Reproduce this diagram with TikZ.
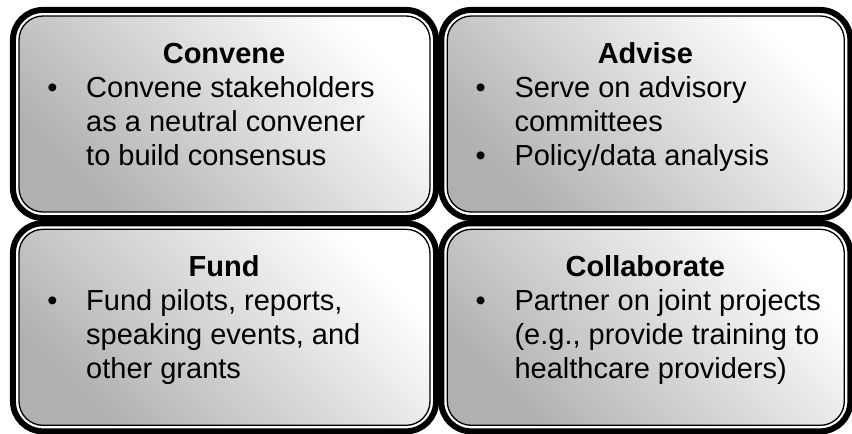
\documentclass[tikz,border=0pt]{standalone}
\usepackage{fontspec}
\setmainfont{Liberation Sans}
\usepackage{tikz}
\usetikzlibrary{positioning,fit,backgrounds}
\tikzset{
  roleBox/.style={
    rectangle,
    rounded corners=24pt,
    draw=black,
    line width=1.3pt,
    top color=white,
    bottom color=black!31,
    shading angle=-45,
    minimum height=196pt,
    inner sep=0pt
 },
  roleFrame/.style={
    rectangle,
    rounded corners=30pt,
    draw=black,
    fill=white,
    line width=6pt,
    inner sep=5.4pt
 },
  roleText/.style={
    anchor=base west,
    inner sep=0pt,
    font=\fontsize{29}{34}\selectfont
 }
}
\newcommand{\roleBullet}{\hspace{11pt}\textbullet}

\begin{document}
\begin{tikzpicture}[x=1pt,y=-1pt]
  \useasboundingbox (0,0) rectangle (852,434);

  \node[roleBox, minimum width=411pt] (convene) at (224.5,114) {};
  \node[roleBox, minimum width=397pt, right=16pt of convene] (advise) {};
  \node[roleBox, minimum width=411pt, below=16pt of convene] (fund) {};
  \node[roleBox, minimum width=397pt, below=16pt of advise] (collab) {};

  \begin{scope}[on background layer]
    \node[roleFrame, fit=(convene)] (conveneFrame) {};
    \node[roleFrame, fit=(advise)] (adviseFrame) {};
    \node[roleFrame, fit=(fund)] (fundFrame) {};
    \node[roleFrame, fit=(collab)] (collabFrame) {};
  \end{scope}

  \node[roleText] (conveneText) at ([shift={(17.7,48)}]convene.north west) {%
    \begin{tabular}[t]{@{}p{50pt}@{}p{325.6pt}@{}}
      \multicolumn{2}{@{}c@{}}{\bfseries Convene}\\
      \roleBullet & Convene stakeholders\\
       & as a neutral convener\\
       & to build consensus
    \end{tabular}};
  \node[roleText] (adviseText) at ([shift={(17.7,48)}]advise.north west) {%
    \begin{tabular}[t]{@{}p{50pt}@{}p{311.6pt}@{}}
      \multicolumn{2}{@{}c@{}}{\bfseries Advise}\\
      \roleBullet & Serve on advisory\\
       & committees\\
      \roleBullet & Policy/data analysis
    \end{tabular}};
  \node[roleText] (fundText) at ([shift={(17.7,48)}]fund.north west) {%
    \begin{tabular}[t]{@{}p{50pt}@{}p{325.6pt}@{}}
      \multicolumn{2}{@{}c@{}}{\bfseries Fund}\\
      \roleBullet & Fund pilots, reports,\\
       & speaking events, and\\
       & other grants
    \end{tabular}};
  \node[roleText] (collabText) at ([shift={(17.7,48)}]collab.north west) {%
    \begin{tabular}[t]{@{}p{50pt}@{}p{311.6pt}@{}}
      \multicolumn{2}{@{}c@{}}{\bfseries Collaborate}\\
      \roleBullet & Partner on joint projects\\
       & (e.g., provide training to\\
       & healthcare providers)
    \end{tabular}};
\end{tikzpicture}
\end{document}
